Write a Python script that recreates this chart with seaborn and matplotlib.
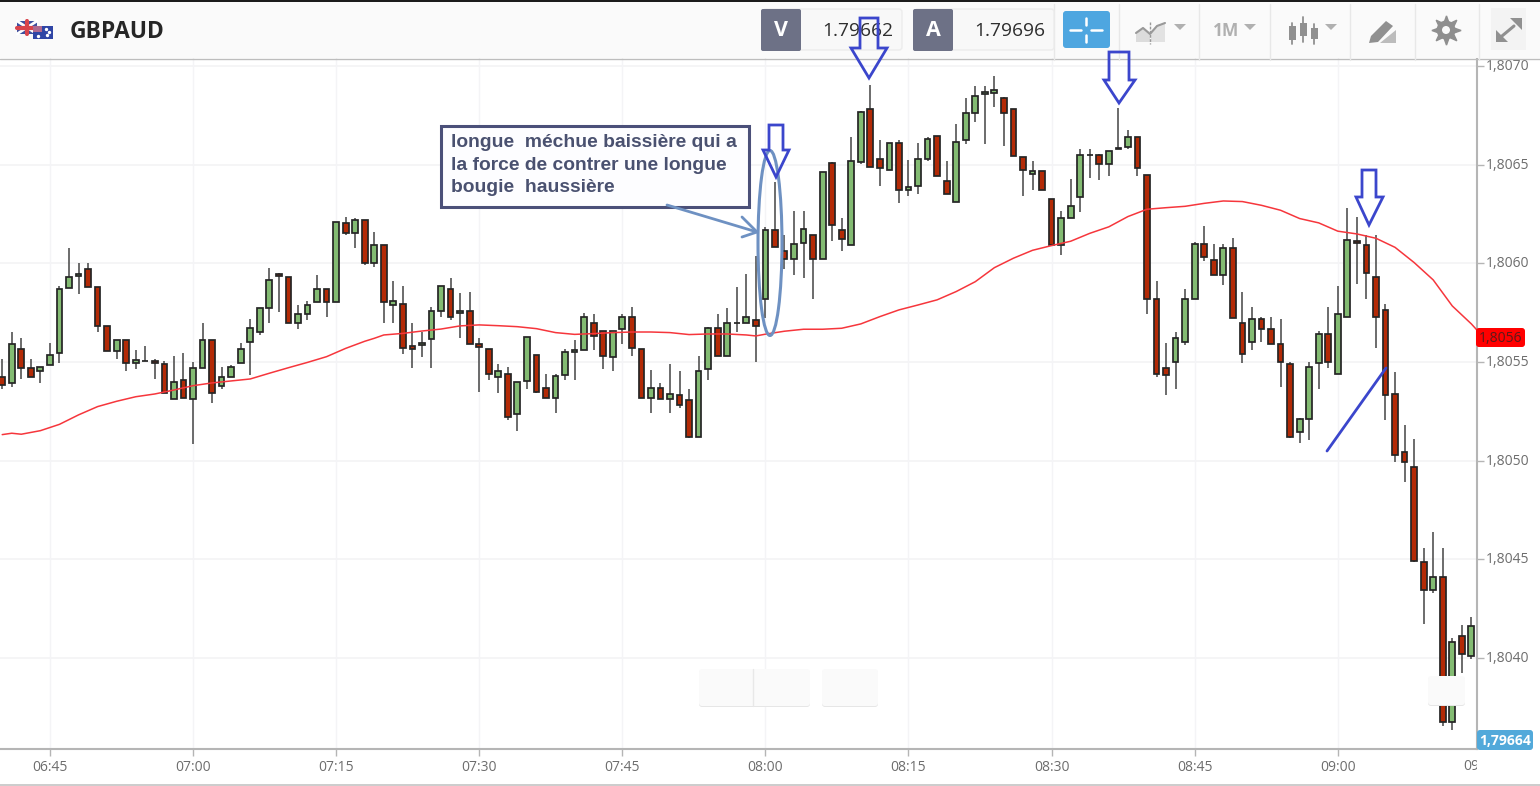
import numpy as np
import pandas as pd
import seaborn as sns
import matplotlib
matplotlib.use("Agg")
import matplotlib.pyplot as plt
from matplotlib.patches import Rectangle, FancyBboxPatch, Ellipse, Polygon
from matplotlib.ticker import FixedLocator, FuncFormatter
from matplotlib.transforms import Bbox, ScaledTranslation

# ---- data: prices are 1.8000 + pips/10000; minutes counted from 07:00 ----
minute_start = -20
open_pips = [
 54.22,53.92,55.66,54.71,54.53,54.83,55.44,58.75,59.34,59.71,
 58.82,56.83,55.54,56.10,54.95,55.05,55.07,54.90,53.13,54.11,
 53.13,54.71,56.10,53.80,54.22,54.95,56.03,56.52,57.72,59.48,
 59.29,56.99,57.42,58.02,58.68,58.02,62.06,61.52,62.20,60.02,
 60.93,57.89,57.96,55.81,55.85,56.15,57.60,58.68,57.47,57.60,
 55.91,55.66,54.22,54.41,52.37,54.06,55.37,53.68,53.19,54.34,
 55.49,55.61,56.99,56.57,55.26,56.69,57.30,55.66,53.19,53.68,
 53.13,53.33,53.08,51.20,54.65,56.71,55.31,56.97,56.99,57.13,
 58.21,61.71,60.63,60.21,61.05,61.42,60.21,65.07,61.71,60.93,
 65.16,67.81,65.27,64.73,66.12,63.70,63.94,65.27,66.47,64.18,
 63.09,66.24,67.62,68.58,68.65,68.40,67.81,65.37,64.55,64.67,
 63.28,60.93,62.32,63.35,65.48,65.51,65.02,65.80,65.92,66.41,
 64.48,58.20,54.72,55.01,56.03,58.20,60.98,60.19,59.41,60.80,
 57.00,56.03,57.18,56.69,55.92,54.89,51.46,52.12,54.94,56.41,
 54.40,57.30,61.15,60.92,59.29,57.61,53.38,50.42,49.70,44.87,
 43.43,44.09,36.74,41.14,40.11]
close_pips = [
 53.82,55.91,54.71,54.24,54.77,55.37,58.68,59.29,59.48,58.82,
 56.83,55.56,56.10,54.97,55.09,55.07,54.95,53.45,53.99,53.19,
 54.71,56.10,53.45,54.22,54.77,55.68,56.71,57.72,59.17,59.34,
 56.99,57.42,57.91,58.68,58.02,62.08,61.52,62.20,60.02,60.93,
 58.02,58.09,55.73,55.66,55.98,57.60,58.87,57.30,57.60,55.91,
 55.78,54.41,54.53,52.23,53.99,56.29,53.50,53.19,54.29,55.51,
 55.63,57.30,56.34,55.31,56.57,57.30,55.73,53.19,53.68,53.13,
 53.38,52.84,51.20,54.53,56.71,55.31,56.99,56.99,57.30,56.83,
 61.71,60.81,60.21,61.00,61.76,60.21,64.61,61.96,61.24,65.21,
 67.69,64.90,64.85,66.12,63.70,63.89,65.27,66.29,64.41,63.52,
 66.17,67.62,68.47,68.70,68.77,67.62,65.44,64.73,64.67,63.70,
 60.93,62.32,62.93,65.51,65.51,65.02,65.70,65.83,66.41,64.83,
 58.20,54.40,54.35,56.22,58.20,60.98,60.33,59.41,60.80,57.23,
 55.43,57.18,56.69,55.92,55.01,51.20,52.12,54.77,56.41,55.01,
 57.42,61.17,61.03,59.53,57.30,53.32,50.29,49.93,44.94,43.43,
 44.09,36.74,40.83,40.22,41.63]
high_pips = [
 55.17,56.50,56.20,55.17,54.77,55.95,58.85,60.79,60.00,60.00,
 58.82,56.83,56.10,56.10,55.59,55.80,55.17,55.05,55.31,55.47,
 54.98,56.99,56.10,54.77,54.87,55.95,57.16,57.72,59.75,59.49,
 59.29,57.89,58.08,59.39,58.68,62.08,62.37,62.28,62.20,61.57,
 60.93,59.11,58.85,56.99,56.52,57.77,58.87,59.27,58.48,58.55,
 56.22,55.66,54.88,54.77,53.99,56.29,55.37,54.41,54.41,55.66,
 56.10,57.47,57.42,56.57,56.57,57.42,57.77,55.66,54.58,53.92,
 54.88,54.53,53.62,55.31,56.79,57.42,57.72,58.80,59.46,60.38,
 61.86,64.14,61.44,62.66,62.66,61.42,64.61,65.16,62.28,66.39,
 67.74,69.04,66.27,66.12,66.25,65.26,66.10,66.41,66.47,65.21,
 67.05,68.38,68.99,68.99,69.48,68.42,67.81,65.37,65.21,64.67,
 63.28,62.66,64.28,65.80,65.80,65.54,65.70,67.86,66.76,66.41,
 64.48,59.11,55.97,56.51,58.69,61.10,61.88,60.97,60.97,61.29,
 58.57,57.77,57.30,57.30,57.18,55.01,52.15,55.01,56.58,57.77,
 58.87,62.79,62.37,61.46,61.46,57.96,54.51,51.81,51.08,45.59,
 46.37,45.59,41.00,41.68,42.10]
low_pips = [
 53.62,53.75,54.12,54.24,53.94,54.83,54.97,58.75,58.46,58.82,
 56.52,55.56,55.14,54.53,54.65,55.05,54.12,53.45,53.13,53.19,
 50.85,54.71,52.91,53.62,54.22,54.95,54.34,56.35,56.99,57.54,
 56.99,56.69,57.13,58.02,57.30,58.02,61.42,60.79,59.90,59.83,
 56.99,56.99,55.42,54.71,55.24,54.71,57.30,57.13,56.22,55.91,
 53.50,54.11,53.45,52.05,51.52,53.62,53.45,53.19,52.42,54.11,
 54.11,55.61,55.61,54.65,54.53,55.91,55.31,53.19,52.42,53.13,
 52.42,52.65,51.15,51.20,54.11,55.31,55.31,56.50,56.99,55.02,
 57.25,60.81,59.72,59.43,59.24,58.21,60.21,61.12,60.63,60.93,
 65.04,64.90,63.94,64.73,63.04,63.40,63.52,65.21,64.41,63.52,
 63.09,66.05,67.18,66.05,67.93,65.93,65.44,63.40,63.70,63.70,
 60.93,60.44,62.32,62.62,64.31,64.24,64.43,65.80,65.80,64.41,
 57.42,54.23,53.32,53.62,55.85,58.20,60.12,59.41,58.92,57.23,
 54.94,55.61,56.03,55.92,53.74,51.15,50.92,51.04,53.62,54.70,
 54.40,57.30,58.94,58.21,55.73,52.05,49.95,48.90,44.87,41.74,
 43.31,36.56,36.37,39.26,39.94]
ma_minutes = [-20,-19,-18,-16,-14,-12,-10,-8,-6,-4,-2,0,2,4,6,8,10,12,14,16,18,19,
 20,22,24,26,28,30,32,34,36,38,40,42,44,46,48,50,52,54,56,58,59,60,62,64,66,68,70,
 72,74,76,78,80,82,84,86,88,90,92,94,96,98,100,102,104,106,108,110,112,114,116,118,
 120,122,124,126,128,130,132,134,135]
ma_pips = [51.32,51.39,51.34,51.52,51.84,52.32,52.74,53.01,53.24,53.38,53.58,53.80,
 53.94,54.04,54.14,54.43,54.71,54.98,55.27,55.69,56.05,56.20,
 56.37,56.45,56.57,56.67,56.83,56.88,56.84,56.79,56.69,56.49,56.40,56.44,56.49,56.52,
 56.52,56.49,56.39,56.42,56.42,56.37,56.32,56.41,56.56,56.66,56.66,56.71,56.93,
 57.30,57.64,57.89,58.15,58.57,59.07,59.78,60.26,60.66,60.90,61.12,61.52,61.85,
 62.37,62.74,62.82,62.89,63.04,63.16,63.13,62.94,62.69,62.27,62.05,
 61.63,61.49,61.27,60.81,60.04,59.16,57.84,56.93,56.40]
price_ticks = [1.8040, 1.8045, 1.8050, 1.8055, 1.8060, 1.8065, 1.8070]
time_ticks = [-15, 0, 15, 30, 45, 60, 75, 90, 105, 120]
time_labels = ["06:45","07:00","07:15","07:30","07:45","08:00","08:15","08:30","08:45","09:00"]
symbol = "GBPAUD"
bid_label, bid_value = "V", "1.79662"
ask_label, ask_value = "A", "1.79696"
last_label, cross_label = "1,8056", "1,79664"
note_lines = ["longue  méchue baissière qui a", "la force de contrer une longue", "bougie  haussière"]

GREEN, RED, EDGE = "#83bb72", "#b32a06", "#252525"
GRID, AXIS, TXT = "#f4f4f6", "#b5b5b5", "#6d6d6d"
BLUE, PALE = "#3b46cc", "#6e91c2"

sns.set_theme(style="white")
plt.rcParams['font.family'] = ['Open Sans', 'DejaVu Sans']

W, H = 1540, 786
fig = plt.figure(figsize=(W/100, H/100), dpi=100, facecolor="white")
ax = fig.add_axes([0, (H-749)/H, 1477/W, (749-58)/H])

df = pd.DataFrame({"o": open_pips, "h": high_pips, "l": low_pips, "c": close_pips})
df["minute"] = minute_start + np.arange(len(df))
for col in "ohlc":
    df[col] = 1.8 + df[col] * 1e-4
ma = pd.DataFrame({"minute": ma_minutes, "ma": 1.8 + np.array(ma_pips) * 1e-4})

up = df.c >= df.o
ax.vlines(df.minute, df.l, df.h, color="#444444", lw=1.1, zorder=2)
ax.bar(df.minute, (df.c - df.o).abs(), bottom=df[["o", "c"]].min(axis=1), width=0.6,
       color=np.where(up, GREEN, RED), edgecolor=EDGE, linewidth=1.25, zorder=3)
sns.lineplot(data=ma, x="minute", y="ma", color="#f6363c", lw=1.1, ax=ax, zorder=4,
             errorbar=None, estimator=None)

ax.set_xlim(-193/9.54, (1477-193)/9.54)
ax.set_ylim(1.8070 - (749-66)/197333, 1.8070 + (66-58)/197333)
ax.set_xlabel(""); ax.set_ylabel("")
ax.xaxis.set_major_locator(FixedLocator(time_ticks))
ax.xaxis.set_major_formatter(FuncFormatter(lambda v, p: time_labels[time_ticks.index(int(v))]))
ax.yaxis.set_major_locator(FixedLocator(price_ticks))
ax.yaxis.set_major_formatter(FuncFormatter(lambda v, p: f"{v:.4f}".replace(".", ",")))
ax.yaxis.tick_right()
ax.grid(True, axis="x", color=GRID, lw=1.0)
ax.grid(True, axis="y", color=GRID, lw=1.3)
ax.set_axisbelow(True)
ax.tick_params(axis="x", length=5, width=1, color=AXIS, labelsize=10, labelcolor=TXT, pad=3, bottom=True)
ax.tick_params(axis="y", length=5, width=1, color=AXIS, labelsize=10, labelcolor=TXT, pad=1.5, right=True)
for lab in ax.get_yticklabels():
    lab.set_transform(lab.get_transform() + ScaledTranslation(0, 1.5/100, fig.dpi_scale_trans))
for s in ("top", "left"):
    ax.spines[s].set_visible(False)
for s in ("bottom", "right"):
    ax.spines[s].set_color(AXIS); ax.spines[s].set_linewidth(1.5)

# ---- overlay in pixel coordinates: toolbar, labels and hand-drawn notes ----
ov = fig.add_axes([0, 0, 1, 1], facecolor="none", zorder=10)
ov.set_xlim(0, W); ov.set_ylim(H, 0); ov.axis("off")

def rect(x0, y0, x1, y1, fc, ec="none", lw=0, round_=0, z=1):
    if round_:
        p = FancyBboxPatch((x0, y0), x1-x0, y1-y0, boxstyle=f"round,pad=0,rounding_size={round_}",
                           fc=fc, ec=ec, lw=lw, zorder=z)
    else:
        p = Rectangle((x0, y0), x1-x0, y1-y0, fc=fc, ec=ec, lw=lw, zorder=z)
    ov.add_patch(p)

# clipped next time label
t = ov.text(1481, 766, "09:15", ha="center", va="center", fontsize=10, color=TXT)
t.set_clip_box(Bbox([[0, 0], [1477, H]])); t.set_clip_on(True)

# toolbar
rect(0, 0, W, 58, "#fafafa")
rect(0, 0, W, 1.8, "#1c1c1c", z=2)
ov.plot([0, W], [58.5, 58.5], color="#bdbdbd", lw=1, zorder=2)
ov.plot([0, W], [784.5, 784.5], color="#c4c4c4", lw=1.2, zorder=2)
for sx in (1054, 1119, 1199, 1270, 1350, 1415, 1479):
    ov.plot([sx, sx], [4, 60], color="#e8e8e8", lw=1, zorder=2)

# flags
rect(17, 21, 37, 34, "#3a4fa0", z=3)
ov.plot([17, 37], [21, 34], color="white", lw=2, zorder=3)
ov.plot([17, 37], [34, 21], color="white", lw=2, zorder=3)
ov.plot([27, 27], [21, 34], color="#d8444c", lw=3, zorder=3)
ov.plot([17, 37], [27.5, 27.5], color="#d8444c", lw=3, zorder=3)
rect(33, 26, 53, 39, "#2f45a5", z=4)
rect(33, 26, 42, 32, "#b06a90", z=4)
ov.scatter([46, 49, 47, 38], [29, 32, 35, 36], s=2, color="white", zorder=5)
ov.text(70, 32, symbol, fontsize=16.4, fontweight="bold", color="#262626", va="center", zorder=5)

# bid / ask
for x0, x1, x2, lab, val, cx in ((761, 801, 902, bid_label, bid_value, 858),
                                 (913, 953, 1054, ask_label, ask_value, 1010)):
    rect(x0+2, 9, x2, 50, "#f8f8f8", ec="#ececec", lw=1, round_=3, z=3)
    rect(x0, 9, x1, 51, "#6d7186", round_=2, z=4)
    ov.text((x0+x1)/2, 31, lab, color="white", fontsize=15.5, fontweight="bold", ha="center", va="center", zorder=5)
    ov.text(cx, 30.5, val, color="#2e2e2e", fontsize=13.8, ha="center", va="center", zorder=5)

# crosshair button
rect(1063, 11, 1110, 48, "#4ea6e0", round_=3, z=3)
for seg in (([1070, 1081], [30, 30]), ([1091, 1102], [30, 30]), ([1086, 1086], [18, 25]), ([1086, 1086], [35, 42])):
    ov.plot(*seg, color="white", lw=1.8, zorder=4)

# chart-type icon
ICON = "#b0b0b0"
ov.add_patch(Polygon([(1136, 42), (1136, 32), (1143, 27), (1150, 33), (1150, 42)], fc="#dcdcdc", ec="none", zorder=3))
ov.add_patch(Polygon([(1151, 42), (1151, 31), (1157, 25), (1165, 23), (1165, 42)], fc="#e2e2e2", ec="none", zorder=3))
ov.plot([1136, 1143, 1150, 1157, 1165], [33, 28, 34, 26, 23], color="#999999", lw=1.5, zorder=4)
ov.plot([1150, 1150], [22, 44], color="#999999", lw=1, ls=(0, (2, 1)), zorder=4)
tri = lambda cx, cy: ov.add_patch(Polygon([(cx-6, cy-3), (cx+6, cy-3), (cx, cy+3)], fc=ICON, ec="none", zorder=4))
tri(1180, 27); tri(1250, 27); tri(1331, 27)
ov.text(1226, 31.5, "1M", color=ICON, fontsize=12.5, fontweight="bold", ha="center", va="center", zorder=4)

# candle icon
for cx, y0, y1, ly0, ly1 in ((1292, 26, 40, 23, 44), (1303, 23, 36, 17, 42), (1314, 28, 39, 24, 44)):
    ov.plot([cx, cx], [ly0, ly1], color="#909090", lw=1.3, zorder=4)
    rect(cx-3.5, y0, cx+3.5, y1, "#909090", z=5)

# pen icon
ov.add_patch(Polygon([(1371, 36), (1386, 21), (1393, 26), (1378, 42), (1369, 43)], fc="#909090", ec="none", zorder=4))
ov.add_patch(Polygon([(1380, 43), (1396, 30), (1396, 43)], fc="#bcbcbc", ec="none", zorder=4))

# gear
ov.plot([1446], [30], marker=(8, 1, 0), ms=21, color="#8f8f8f", mec="#8f8f8f", zorder=4)
ov.add_patch(Ellipse((1446, 30), 19, 19, fc="#8f8f8f", ec="none", zorder=5))
ov.add_patch(Ellipse((1446, 30), 8, 8, fc="#fafafa", ec="none", zorder=6))

# expand
rect(1491, 8, 1526, 50, "#f3f3f3", z=3)
ov.add_patch(Polygon([(1522, 18), (1510, 18), (1522, 30)], fc="#909090", ec="none", zorder=4))
ov.add_patch(Polygon([(1496, 42), (1508, 42), (1496, 30)], fc="#909090", ec="none", zorder=4))
ov.plot([1514, 1502], [26, 36], color="#909090", lw=2.2, zorder=4)

# axis price tags
rect(1476, 328, 1525, 347, "#ff0000", round_=3, z=3)
ov.text(1501, 338.5, last_label, fontsize=10, color="#5b1a1a", ha="center", va="center", zorder=4)
rect(1477, 730, 1533, 750, "#52a9da", round_=3, z=3)
ov.text(1505, 741, cross_label, fontsize=10, color="white", fontweight="bold", ha="center", va="center", zorder=4)

# floating buttons
for bx0, by0, bx1, by1 in ((699, 669, 810, 706), (822, 669, 878, 706), (1428, 676, 1465, 705)):
    rect(bx0, by0+1, bx1, by1+1, "#e6e6e6", round_=3, z=2)
    rect(bx0, by0, bx1, by1, "#fafafa", round_=3, z=3)
ov.plot([753, 753], [669, 706], color="#e8e8e8", lw=1, zorder=4)

# note box
rect(441, 126, 749, 207, "#fdfdff", ec="#4b5079", lw=2.2, z=3)
for yy, line in zip((142.5, 165.5, 187.5), note_lines):
    ov.text(451, yy, line, family="Liberation Sans", fontweight="bold", fontsize=13.9,
            color="#4a5170", va="center", ha="left", zorder=4)

# pale arrow and ellipse
ov.plot([667, 757], [205, 232], color=PALE, lw=2, zorder=6)
ov.plot([742, 757, 742], [217, 232, 237], color=PALE, lw=2, zorder=6)
ov.add_patch(Ellipse((770, 243), 24, 185, fc="none", ec=PALE, lw=2.2, zorder=6))

# hollow blue arrows: shaft left/right, top, shoulder, wing left/right, tip
for a, b, top, sh, wl, wr, tx, ty in ((860, 878, 18, 48, 851, 887, 869, 78),
                                      (1109, 1129, 52, 80, 1104, 1135, 1119, 103),
                                      (769, 783, 125, 150, 763, 789, 776, 177),
                                      (1362, 1376, 170, 197, 1356, 1383, 1369, 225)):
    ov.add_patch(Polygon([(a, top), (b, top), (b, sh), (wr, sh), (tx, ty), (wl, sh), (a, sh)],
                         closed=True, fc="none", ec=BLUE, lw=2, zorder=7))
ov.plot([1327, 1386], [451, 368], color=BLUE, lw=2, zorder=7)

fig.savefig("out.png", dpi=100, facecolor="white")
